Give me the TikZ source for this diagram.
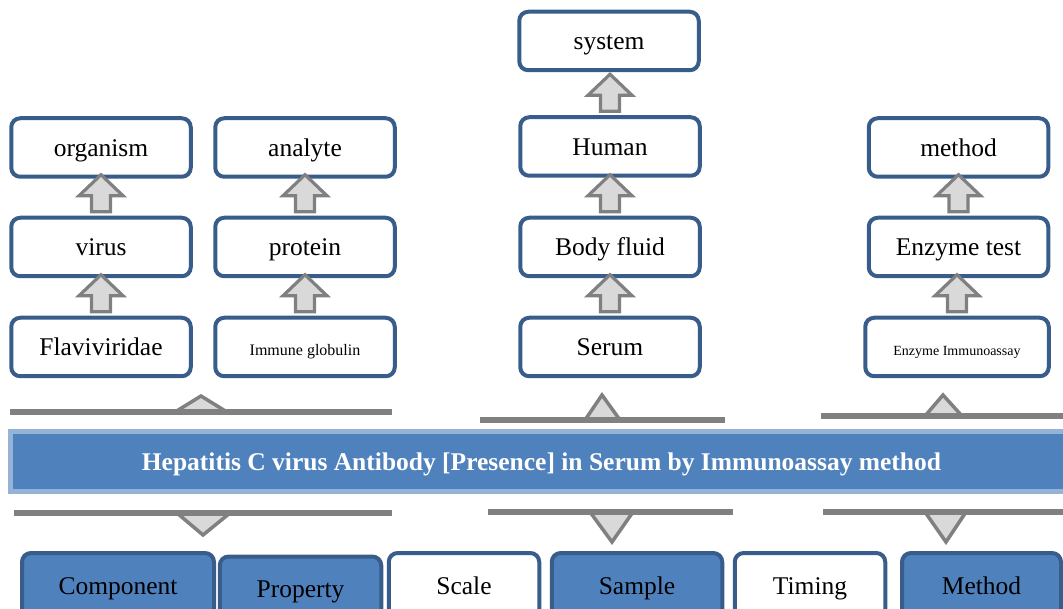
\documentclass[tikz,border=0pt]{standalone}
\usepackage{fontspec}
\setmainfont{Liberation Serif}
\usetikzlibrary{calc}
\definecolor{boxblue}{RGB}{56,93,138}
\definecolor{fillblue}{RGB}{79,129,189}
\definecolor{bandblue}{RGB}{149,179,215}
\definecolor{arrgray}{RGB}{128,128,128}
\definecolor{arrfill}{RGB}{217,217,217}
% block arrow from lower node up towards upper node
\newcommand{\blockup}[2]{%
  \path (#1.north) ++(0,-4) coordinate (#1-foot) (#2.south);
  \draw[blockarr] ($(#1-foot)+(-9.5,0)$) -- ++(0,-16) -- ++(-12.5,0)
    -- ($(#1-foot)+(0,-37)$) -- ($(#1-foot)+(22,-16)$) -- ++(-12.5,0)
    -- ($(#1-foot)+(9.5,0)$) -- cycle;}
\begin{document}
\begin{tikzpicture}[x=1pt,y=-1pt]
  \tikzstyle{topbox}=[draw=boxblue,line width=4pt,rounded corners=9pt,fill=white,minimum width=179.5pt,minimum height=58.5pt,inner sep=0pt,text height=23pt,text depth=5.3pt,font=\fontsize{25.5}{30}\selectfont]
  \tikzstyle{catbox}=[topbox,minimum height=65pt]
  \tikzstyle{catfill}=[catbox,fill=fillblue]
  \tikzstyle{header}=[draw=bandblue,line width=5pt,fill=fillblue,minimum width=1062pt,minimum height=59.5pt,text=white,text height=23pt,text depth=5.3pt,font=\fontsize{25.5}{30}\selectfont\bfseries]
  \tikzstyle{blockarr}=[draw=arrgray,line width=3.2pt,fill=arrfill]
  \tikzstyle{notch}=[draw=arrgray,line width=3.5pt,fill=arrfill]
  \tikzstyle{bar}=[draw=arrgray,line width=6pt]
  \useasboundingbox (0,0) rectangle (1063,609);
  \clip (0,0) rectangle (1063,609);

  % component columns
  \node[topbox] (organism) at (101,147.5) {organism};
  \node[topbox] (virus) at (101,247) {virus};
  \node[topbox] (flavi) at (101,347) {Flaviviridae};
  \node[topbox] (analyte) at (305,147.5) {analyte};
  \node[topbox] (protein) at (305,247) {protein};
  \node[topbox,font=\fontsize{16}{19}\selectfont] (globulin) at (305,347) {Immune globulin};
  % sample column
  \node[topbox] (system) at (609,41) {system};
  \node[topbox] (human) at (610,146.5) {Human};
  \node[topbox] (fluid) at (610,247) {Body fluid};
  \node[topbox] (serum) at (610,347) {Serum};
  % method column
  \node[topbox] (method) at (958.5,147.5) {method};
  \node[topbox] (enzyme) at (958.5,247) {Enzyme test};
  \node[topbox,minimum width=183.5pt,font=\fontsize{14}{17}\selectfont] (eia) at (957,347) {Enzyme Immunoassay};

  \blockup{virus}{organism}
  \blockup{flavi}{virus}
  \blockup{protein}{analyte}
  \blockup{globulin}{protein}
  \blockup{human}{system}
  \blockup{fluid}{human}
  \blockup{serum}{fluid}
  \blockup{enzyme}{method}
  \blockup{eia}{enzyme}

  % brackets above the name
  \filldraw[notch] (175,412) -- (201,396) -- (227,412) -- cycle;
  \draw[bar] (10,412) -- (392,412);
  \filldraw[notch] (585,420) -- (602,395) -- (620,420) -- cycle;
  \draw[bar] (480,420) -- (725,420);
  \filldraw[notch] (925,416) -- (943,395) -- (962,416) -- cycle;
  \draw[bar] (821,416) -- (1063,416);

  \node[header] (name) at (541.5,461.25) {Hepatitis C virus Antibody [Presence] in Serum by Immunoassay method};

  % brackets below the name
  \filldraw[notch] (177,513) -- (203,535) -- (230,513) -- cycle;
  \draw[bar] (14,513) -- (392,513);
  \filldraw[notch] (590,512) -- (612,542) -- (633,512) -- cycle;
  \draw[bar] (488,512) -- (733,512);
  \filldraw[notch] (925,512) -- (946,542) -- (966,512) -- cycle;
  \draw[bar] (823,512) -- (1063,512);

  % the six parts
  \node[catfill,minimum width=192pt] (component) at (118,585.5) {Component};
  \node[catfill,minimum width=161.5pt,minimum height=64pt] (property) at (300.5,588.5) {Property};
  \node[catbox,minimum width=150.5pt] (scale) at (464,585.5) {Scale};
  \node[catfill,minimum width=170.5pt] (sample) at (637,585.5) {Sample};
  \node[catbox,minimum width=150.5pt] (timing) at (810,585.5) {Timing};
  \node[catfill,minimum width=159pt] (methodpart) at (981.5,585.5) {Method};
\end{tikzpicture}
\end{document}
